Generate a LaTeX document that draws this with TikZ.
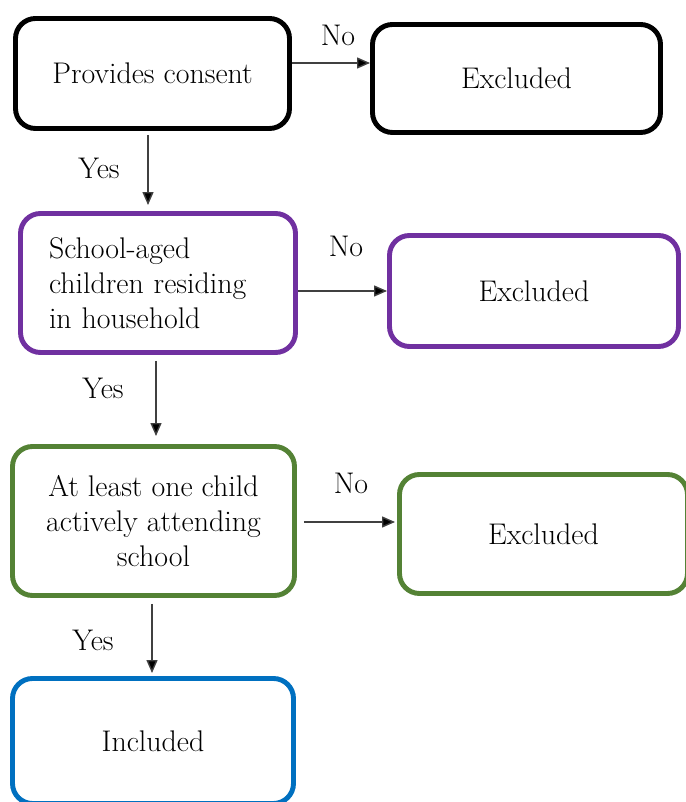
\documentclass[tikz,border=0pt]{standalone}
\usetikzlibrary{arrows.meta}
\definecolor{morado}{HTML}{7030A0}
\definecolor{verde}{HTML}{548235}
\definecolor{azul}{HTML}{0070C0}

\begin{document}
\begin{tikzpicture}[
    caja/.style={draw, line width=2.8pt, rounded corners=0.4cm, fill=white, inner sep=0pt, font=\fontsize{17}{20}\selectfont},
    flecha/.style={-{Triangle[length=0.26cm,width=0.22cm,fill=black]}, line width=0.8pt, black!75},
    etiq/.style={inner sep=0pt, font=\fontsize{17}{20}\selectfont}
  ]
            \useasboundingbox (0,0) rectangle (13.72,16.04);

            % Cajas de decisión
            \node[caja, minimum width=5.48cm, minimum height=2.2cm] (consent) at (3.05,14.57) {Provides consent};
            \node[caja, draw=morado, minimum width=5.5cm, minimum height=2.78cm, text width=4.36cm, align=left] (hogar) at (3.16,10.38) {School-aged\\children residing\\in household};
            \node[caja, draw=verde, minimum width=5.64cm, minimum height=2.98cm, align=center] (escuela) at (3.07,5.62) {At least one child\\actively attending\\school};
            \node[caja, draw=azul, minimum width=5.62cm, minimum height=2.5cm] (incl) at (3.06,1.22) {Included};

            % Cajas de exclusión
            \node[caja, minimum width=5.76cm, minimum height=2.16cm] (excl1) at (10.33,14.47) {Excluded};
            \node[caja, draw=morado, minimum width=5.78cm, minimum height=2.22cm] (excl2) at (10.68,10.22) {Excluded};
            \node[caja, draw=verde, minimum width=5.76cm, minimum height=2.38cm] (excl3) at (10.87,5.36) {Excluded};

            % Flechas "No"
            \coordinate (n1) at ([yshift=0.21cm]consent.east);
            \coordinate (n2) at ([yshift=-0.16cm]hogar.east);
            \coordinate (n3) at ([yshift=-0.02cm]escuela.east);
            \draw[flecha] (n1) -- (n1 -| excl1.west);
            \draw[flecha] (n2) -- (n2 -| excl2.west);
            \draw[flecha, shorten <=0.14cm, shorten >=0.04cm] (n3) -- (n3 -| excl3.west);

            % Flechas "Yes"
            \coordinate (s1) at ([xshift=-0.09cm]consent.south);
            \coordinate (s2) at ([xshift=-0.04cm]hogar.south);
            \coordinate (s3) at ([xshift=-0.03cm]escuela.south);
            \draw[flecha, shorten <=0.08cm, shorten >=0.12cm] (s1) -- (s1 |- hogar.north);
            \draw[flecha, shorten <=0.12cm, shorten >=0.16cm] (s2) -- (s2 |- escuela.north);
            \draw[flecha, shorten <=0.12cm, shorten >=0.06cm] (s3) -- (s3 |- incl.north);

            % Etiquetas
            \node[etiq] (no1) at (6.76,15.34) {No};
            \node[etiq] (no2) at (6.92,11.12) {No};
            \node[etiq] (no3) at (7.02,6.38) {No};
            \node[etiq] (si1) at (1.98,12.68) {Yes};
            \node[etiq] (si2) at (2.06,8.28) {Yes};
            \node[etiq] (si3) at (1.86,3.24) {Yes};
        \end{tikzpicture}
\end{document}
